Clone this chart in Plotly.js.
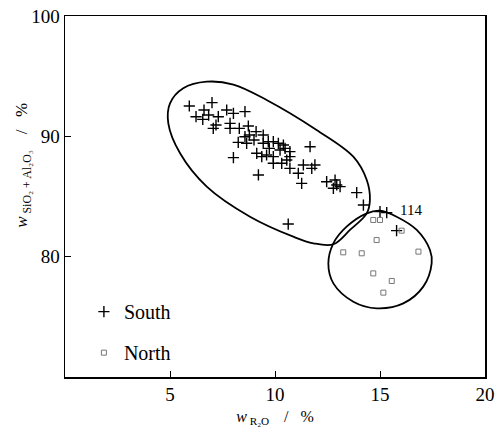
<!DOCTYPE html>
<html>
<head>
<meta charset="utf-8">
<script src="https://cdn.plot.ly/plotly-3.0.1.min.js"></script>
<style>html,body{margin:0;padding:0;background:#fff;}#chart{width:495px;height:433px;}</style>
</head>
<body>
<div id="chart"></div>
<script>
// South samples (+)
const southX = [5.92,7.00,6.24,6.62,6.56,6.84,7.30,7.06,7.19,7.70,8.02,8.57,7.86,7.86,8.30,8.73,8.02,8.25,8.65,8.57,8.78,9.10,9.44,9.00,9.44,9.68,9.92,10.16,10.40,9.13,9.37,9.60,9.92,9.92,10.32,10.71,10.71,10.56,10.71,11.11,11.35,11.67,11.75,11.90,9.21,11.27,12.46,12.86,12.94,13.10,12.78,13.89,14.21,10.63,15.00,15.32,15.79,9.73,10.24,10.48];
const southY = [92.52,92.80,91.63,92.19,91.41,91.77,91.63,90.66,90.94,92.19,91.91,92.05,91.08,90.66,90.66,90.86,88.23,89.50,89.42,89.97,90.11,90.39,90.11,89.70,89.42,89.56,89.56,89.42,89.28,88.59,88.31,88.45,88.31,87.76,87.76,88.31,88.73,88.03,87.34,86.93,87.62,89.14,87.34,87.62,86.79,86.09,86.23,86.37,85.96,85.82,85.68,85.32,84.29,82.71,83.74,83.66,82.16,89.00,88.86,89.00];
// North samples (open squares)
const northX = [14.68,15.00,16.03,14.84,13.25,14.13,16.83,14.68,15.56,15.16];
const northY = [83.05,83.05,82.16,81.38,80.36,80.28,80.42,78.61,77.98,77.01];
// Envelopes
const southEnvX = [6.75,8.02,9.60,11.98,13.73,14.37,14.52,14.37,13.57,12.78,11.83,10.87,8.81,6.75,5.48,4.92,5.00,5.63,6.75];
const southEnvY = [94.54,94.30,93.02,90.53,88.31,86.37,84.71,83.60,82.22,81.03,81.11,81.66,83.32,85.82,88.59,91.08,92.74,93.99,94.54];
const northEnvX = [15.00,15.79,16.75,17.38,17.46,17.06,16.11,14.84,13.73,12.78,12.54,12.78,13.41,14.37,15.00];
const northEnvY = [83.82,83.32,82.22,80.55,79.45,77.51,76.12,75.71,76.26,77.78,79.45,81.11,82.49,83.60,83.82];
const xTicks = [5,10,15,20];
const yTicks = [80,90,100];
const labelText = "114";
const labelX = 15.85, labelY = 83.9;
const xTitle = "<i>w</i><sub> R₂O </sub>   /   %";
const yTitle = "<i>w</i><sub> SiO₂ + Al₂O₃ </sub>   /   %";

const serif = "Liberation Serif, Times New Roman, serif";

const traces = [
  {x: southEnvX, y: southEnvY, mode: "lines", line: {color: "#000", width: 1.8, shape: "spline", smoothing: 1}, showlegend: false, hoverinfo: "skip"},
  {x: northEnvX, y: northEnvY, mode: "lines", line: {color: "#000", width: 1.8, shape: "spline", smoothing: 1}, showlegend: false, hoverinfo: "skip"},
  {x: southX, y: southY, mode: "markers", name: "South", legendgroup: "s",
   marker: {symbol: "cross-thin-open", size: 8, line: {color: "#000", width: 1.4}, color: "#000"}},
  {x: northX, y: northY, mode: "markers", name: "North", legendgroup: "n",
   marker: {symbol: "square-open", size: 5, line: {color: "#777", width: 1}, color: "#777"}}
];

const layout = {
  width: 495, height: 433,
  margin: {l: 65, r: 10, t: 16, b: 56},
  paper_bgcolor: "#fff", plot_bgcolor: "#fff",
  font: {family: serif, color: "#000"},
  showlegend: true,
  legend: {x: 0.045, y: 0.235, xanchor: "left", yanchor: "top", bgcolor: "rgba(0,0,0,0)",
           font: {family: serif, size: 20, color: "#000"}, tracegroupgap: 12},
  xaxis: {range: [0, 20], tickvals: xTicks, ticks: "inside", ticklen: 6, tickcolor: "#000",
          showline: true, linecolor: "#000", linewidth: 1.5, mirror: true, showgrid: false, zeroline: false,
          tickfont: {family: serif, size: 19},
          title: {text: xTitle, font: {family: serif, size: 16}, standoff: 6}},
  yaxis: {range: [70, 100], tickvals: yTicks, ticks: "inside", ticklen: 6, tickcolor: "#000",
          showline: true, linecolor: "#000", linewidth: 1.5, mirror: true, showgrid: false, zeroline: false,
          tickfont: {family: serif, size: 19}},
  annotations: [
    {x: labelX, y: labelY, xref: "x", yref: "y", text: labelText, showarrow: false,
     xanchor: "left", yanchor: "middle", font: {family: serif, size: 15, color: "#000"}},
    {x: -0.1, y: 0.585, xref: "paper", yref: "paper", text: yTitle, showarrow: false, textangle: -90,
     xanchor: "center", yanchor: "middle", font: {family: serif, size: 17, color: "#000"}}
  ],
  hovermode: false
};

Plotly.newPlot("chart", traces, layout, {displayModeBar: false, staticPlot: true});
</script>
</body>
</html>
